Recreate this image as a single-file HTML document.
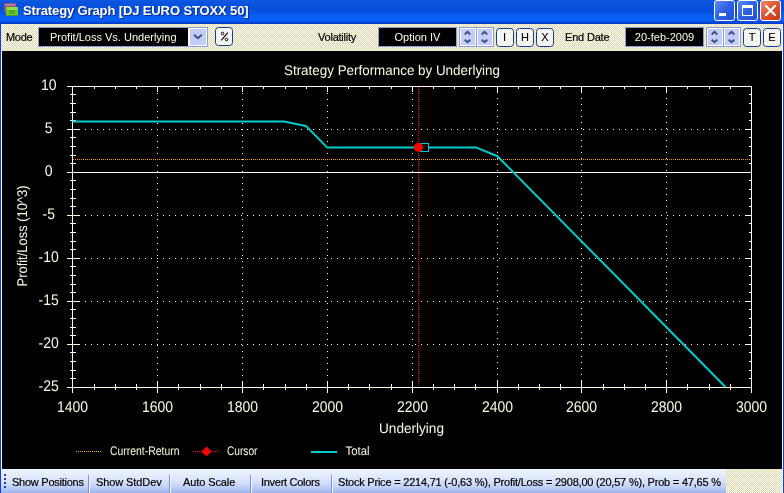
<!DOCTYPE html>
<html>
<head>
<meta charset="utf-8">
<title>Strategy Graph</title>
<style>
html,body{margin:0;padding:0;}
body{width:784px;height:493px;overflow:hidden;background:#fff;font-family:"Liberation Sans",sans-serif;position:relative;}
.abs{position:absolute;}
#csvg,.blk,#ttext,.lbl,.sb,.btn{will-change:transform;}
.lbl,.sb{-webkit-text-stroke:0.2px #000;}
.btn{-webkit-text-stroke:0.1px #000;}
#win{position:absolute;left:0;top:0;width:784px;height:493px;background:#0a3ee6;overflow:hidden;}
#title{position:absolute;left:0;top:0;width:784px;height:24px;
 background:linear-gradient(#1460ec 0px,#0a58e6 2px,#0852e0 8px,#0858ea 13px,#0a60f6 17px,#0a60f6 20px,#0650e4 22px,#0340cc 23px,#0038c0 24px);}
#title .dither{position:absolute;left:0;top:0;width:784px;height:14px;opacity:.22;
 background:repeating-conic-gradient(#0030a0 0% 25%,transparent 0% 50%) 0 0/2px 2px;}
#ttext{position:absolute;left:22.5px;top:3px;font-size:13px;line-height:15px;font-weight:bold;color:#fff;white-space:nowrap;letter-spacing:-0.12px;text-shadow:1px 1px 0 #0a2a90;}
.tb{position:absolute;top:0px;width:21px;height:21px;border-radius:3px;box-sizing:border-box;border:1px solid #fff;}
#toolbar{position:absolute;left:1px;top:24px;width:781px;height:27px;
 background:conic-gradient(#ffffb8 0 25%,#d8d4cc 0 50%,#fffff8 0 75%,#d8d4cc 0 100%) 0 0/2px 2px;}
#lwhite{position:absolute;left:1px;top:24px;width:1px;height:469px;background:#fff;}
#rwhite{position:absolute;left:782px;top:24px;width:1px;height:469px;background:#fff;}
.lbl{position:absolute;font-size:11px;color:#000;white-space:nowrap;line-height:13px;}
.blk{position:absolute;background:#000;box-sizing:border-box;border:1px solid #8a9fd0;color:#ffffe0;font-size:11px;line-height:18px;text-align:center;white-space:nowrap;}
.spinbox{position:absolute;top:3px;width:35px;height:20px;box-sizing:border-box;background:#8a9fd0;}
.spin{position:absolute;top:1px;width:16px;height:18px;margin-left:1px;box-sizing:border-box;border:1px solid #fff;background:#c4cdf9;overflow:hidden;}
.spin svg{left:-1px !important;top:-1px !important;}
.btn{position:absolute;top:4px;width:18px;height:19px;box-sizing:border-box;border:1.5px solid #143f8c;border-radius:3.5px;
 background:repeating-conic-gradient(#efeee8 0% 25%,#ffffff 0% 50%) 0 0/2px 2px;font-size:11px;line-height:16px;text-align:center;color:#000;}
#chart{position:absolute;left:2px;top:51px;width:780px;height:418px;background:#000;}
#status{position:absolute;left:2px;top:469px;width:780px;height:24px;
 background:conic-gradient(#ffffb8 0 25%,#d8d4cc 0 50%,#fffff8 0 75%,#d8d4cc 0 100%) 0 0/2px 2px;}
#strip{position:absolute;left:-1px;top:0;width:725px;height:24px;background:linear-gradient(#eef4ff 0px,#e4ecfd 6px,#d6e0fa 13px,#bccdf4 19px,#a2b9ee 23px,#98b0ea 24px);}
.sb{position:absolute;top:7px;transform-origin:0 0;font-size:11px;line-height:13px;color:#000;white-space:nowrap;}
.sep{position:absolute;top:6px;width:1px;height:18px;background:#7a90d0;box-shadow:1px 0 0 #f4f7ff;}
</style>
</head>
<body>
<div id="win">
 <div id="title">
  <div class="dither"></div>
  <svg class="abs" style="left:4px;top:3px" width="15" height="14" viewBox="4 3 15 14">
   <rect x="4" y="3" width="12" height="9" fill="#8c5a80"/>
   <rect x="5" y="4" width="10" height="2" fill="#b080a0"/>
   <rect x="6" y="7" width="12" height="9" fill="#6cc828"/>
   <rect x="7" y="7" width="10" height="3" fill="#90e048"/>
   <rect x="9" y="10" width="6" height="4" fill="#58a830"/>
   <rect x="6" y="15" width="12" height="1" fill="#4a9820"/>
  </svg>
  <div id="ttext">Strategy Graph [DJ EURO STOXX 50]</div>
  <div class="tb" style="left:714px;background:linear-gradient(135deg,#5a8af4,#2e62e4 50%,#2250d0);">
    <div class="abs" style="left:4px;top:12px;width:7px;height:3px;background:#fff"></div></div>
  <div class="tb" style="left:737px;background:linear-gradient(135deg,#5a8af4,#2e62e4 50%,#2250d0);">
    <div class="abs" style="left:4px;top:4px;width:9px;height:7px;border:1px solid #fff;border-top:3px solid #fff;box-sizing:content-box;"></div></div>
  <div class="tb" style="left:760px;background:linear-gradient(135deg,#ee8c68,#dc5430 50%,#c43812);">
    <svg class="abs" style="left:0;top:0" width="19" height="19"><path d="M5 5 L14 14 M14 5 L5 14" stroke="#fff" stroke-width="2.2" stroke-linecap="round"/></svg></div>
 </div>
 <div id="lwhite"></div><div id="rwhite"></div>
 <div id="toolbar">
  <div class="lbl" style="left:5px;top:7px;letter-spacing:-0.3px">Mode</div>
  <div class="blk" style="left:37px;top:3px;width:170px;height:20px;text-align:left;"><span style="position:absolute;left:11px;top:0;">Profit/Loss Vs. Underlying</span>
    <div class="abs" style="left:149px;top:0px;width:19px;height:18px;box-sizing:border-box;border:1px solid #fff;border-left:2px solid #fff;background:#c4cdf9;">
    <svg class="abs" style="left:0;top:0" width="16" height="16"><path d="M4 5.8 L7.9 9.2 L11.8 5.8" stroke="#3f4f7c" stroke-width="2" fill="none"/></svg></div>
  </div>
  <div class="btn" style="left:214px;top:3px;"><svg class="abs" style="left:0;top:0" width="16" height="17"><circle cx="6.5" cy="5.5" r="1.3" fill="none" stroke="#000" stroke-width="1"/><circle cx="10.5" cy="11.5" r="1.3" fill="none" stroke="#000" stroke-width="1"/><path d="M11.7 4.7 L5.3 12.3" stroke="#000" stroke-width="1.1"/></svg></div>
  <div class="lbl" style="left:317px;top:7px;letter-spacing:-0.22px">Volatility</div>
  <div class="blk" style="left:377px;top:3px;width:79px;height:20px;">Option IV</div>
  <div class="spinbox" style="left:458px;"><div class="spin" style="left:0px;"><svg class="abs" style="left:0;top:0" width="17" height="20"><path d="M4.7 6.5 L7.5 3.9 L10.3 6.5 M4.7 11.7 L7.5 14.3 L10.3 11.7" stroke="#3f4f7c" stroke-width="1.9" fill="none"/></svg></div><div class="spin" style="left:17px;"><svg class="abs" style="left:0;top:0" width="17" height="20"><path d="M4.7 6.5 L7.5 3.9 L10.3 6.5 M4.7 11.7 L7.5 14.3 L10.3 11.7" stroke="#3f4f7c" stroke-width="1.9" fill="none"/></svg></div></div>
  <div class="btn" style="left:495px;text-indent:-1px;">I</div>
  <div class="btn" style="left:515px;">H</div>
  <div class="btn" style="left:535px;">X</div>
  <div class="lbl" style="left:564.3px;top:7px;letter-spacing:-0.18px">End Date</div>
  <div class="blk" style="left:624px;top:3px;width:79px;height:20px;">20-feb-2009</div>
  <div class="spinbox" style="left:705px;"><div class="spin" style="left:0px;"><svg class="abs" style="left:0;top:0" width="17" height="20"><path d="M4.7 6.5 L7.5 3.9 L10.3 6.5 M4.7 11.7 L7.5 14.3 L10.3 11.7" stroke="#3f4f7c" stroke-width="1.9" fill="none"/></svg></div><div class="spin" style="left:17px;"><svg class="abs" style="left:0;top:0" width="17" height="20"><path d="M4.7 6.5 L7.5 3.9 L10.3 6.5 M4.7 11.7 L7.5 14.3 L10.3 11.7" stroke="#3f4f7c" stroke-width="1.9" fill="none"/></svg></div></div>
  <div class="btn" style="left:742px;">T</div>
  <div class="btn" style="left:762px;">E</div>
 </div>
 <div id="chart">
 <svg id="csvg" width="780" height="418" viewBox="2 51 780 418" style="position:absolute;left:0;top:0;font-family:'Liberation Sans',sans-serif;">
<g stroke="#ffffd8" stroke-width="1" stroke-dasharray="1 5" shape-rendering="crispEdges" fill="none"><line x1="157.5" y1="87" x2="157.5" y2="387"/><line x1="242.5" y1="87" x2="242.5" y2="387"/><line x1="327.5" y1="87" x2="327.5" y2="387"/><line x1="412.5" y1="87" x2="412.5" y2="387"/><line x1="497.5" y1="86" x2="497.5" y2="387"/><line x1="581.5" y1="86" x2="581.5" y2="387"/><line x1="666.5" y1="86" x2="666.5" y2="387"/><line x1="73" y1="129.5" x2="751" y2="129.5"/><line x1="73" y1="215.5" x2="751" y2="215.5"/><line x1="73" y1="258.5" x2="751" y2="258.5"/><line x1="73" y1="301.5" x2="751" y2="301.5"/><line x1="73" y1="344.5" x2="751" y2="344.5"/></g>
<line x1="73" y1="159.5" x2="751" y2="159.5" stroke="#ffa000" stroke-width="1" stroke-dasharray="1 1" shape-rendering="crispEdges"/>
<line x1="72" y1="172.5" x2="751" y2="172.5" stroke="#ffffff" stroke-width="1" shape-rendering="crispEdges"/>
<g stroke="#ffffe4" stroke-width="1" shape-rendering="crispEdges" fill="none"><rect x="72.5" y="86.5" width="679" height="301"/><line x1="72.5" y1="381" x2="72.5" y2="393"/><line x1="72.5" y1="86" x2="72.5" y2="92"/><line x1="94.5" y1="384" x2="94.5" y2="390"/><line x1="94.5" y1="86" x2="94.5" y2="89"/><line x1="115.5" y1="384" x2="115.5" y2="390"/><line x1="115.5" y1="86" x2="115.5" y2="89"/><line x1="136.5" y1="384" x2="136.5" y2="390"/><line x1="136.5" y1="86" x2="136.5" y2="89"/><line x1="157.5" y1="381" x2="157.5" y2="393"/><line x1="157.5" y1="86" x2="157.5" y2="92"/><line x1="178.5" y1="384" x2="178.5" y2="390"/><line x1="178.5" y1="86" x2="178.5" y2="89"/><line x1="200.5" y1="384" x2="200.5" y2="390"/><line x1="200.5" y1="86" x2="200.5" y2="89"/><line x1="221.5" y1="384" x2="221.5" y2="390"/><line x1="221.5" y1="86" x2="221.5" y2="89"/><line x1="242.5" y1="381" x2="242.5" y2="393"/><line x1="242.5" y1="86" x2="242.5" y2="92"/><line x1="263.5" y1="384" x2="263.5" y2="390"/><line x1="263.5" y1="86" x2="263.5" y2="89"/><line x1="285.5" y1="384" x2="285.5" y2="390"/><line x1="285.5" y1="86" x2="285.5" y2="89"/><line x1="306.5" y1="384" x2="306.5" y2="390"/><line x1="306.5" y1="86" x2="306.5" y2="89"/><line x1="327.5" y1="381" x2="327.5" y2="393"/><line x1="327.5" y1="86" x2="327.5" y2="92"/><line x1="348.5" y1="384" x2="348.5" y2="390"/><line x1="348.5" y1="86" x2="348.5" y2="89"/><line x1="369.5" y1="384" x2="369.5" y2="390"/><line x1="369.5" y1="86" x2="369.5" y2="89"/><line x1="391.5" y1="384" x2="391.5" y2="390"/><line x1="391.5" y1="86" x2="391.5" y2="89"/><line x1="412.5" y1="381" x2="412.5" y2="393"/><line x1="412.5" y1="86" x2="412.5" y2="92"/><line x1="433.5" y1="384" x2="433.5" y2="390"/><line x1="433.5" y1="86" x2="433.5" y2="89"/><line x1="454.5" y1="384" x2="454.5" y2="390"/><line x1="454.5" y1="86" x2="454.5" y2="89"/><line x1="475.5" y1="384" x2="475.5" y2="390"/><line x1="475.5" y1="86" x2="475.5" y2="89"/><line x1="497.5" y1="381" x2="497.5" y2="393"/><line x1="497.5" y1="86" x2="497.5" y2="92"/><line x1="518.5" y1="384" x2="518.5" y2="390"/><line x1="518.5" y1="86" x2="518.5" y2="89"/><line x1="539.5" y1="384" x2="539.5" y2="390"/><line x1="539.5" y1="86" x2="539.5" y2="89"/><line x1="560.5" y1="384" x2="560.5" y2="390"/><line x1="560.5" y1="86" x2="560.5" y2="89"/><line x1="581.5" y1="381" x2="581.5" y2="393"/><line x1="581.5" y1="86" x2="581.5" y2="92"/><line x1="603.5" y1="384" x2="603.5" y2="390"/><line x1="603.5" y1="86" x2="603.5" y2="89"/><line x1="624.5" y1="384" x2="624.5" y2="390"/><line x1="624.5" y1="86" x2="624.5" y2="89"/><line x1="645.5" y1="384" x2="645.5" y2="390"/><line x1="645.5" y1="86" x2="645.5" y2="89"/><line x1="666.5" y1="381" x2="666.5" y2="393"/><line x1="666.5" y1="86" x2="666.5" y2="92"/><line x1="687.5" y1="384" x2="687.5" y2="390"/><line x1="687.5" y1="86" x2="687.5" y2="89"/><line x1="709.5" y1="384" x2="709.5" y2="390"/><line x1="709.5" y1="86" x2="709.5" y2="89"/><line x1="730.5" y1="384" x2="730.5" y2="390"/><line x1="730.5" y1="86" x2="730.5" y2="89"/><line x1="751.5" y1="381" x2="751.5" y2="393"/><line x1="751.5" y1="86" x2="751.5" y2="92"/><line x1="67" y1="387.5" x2="79" y2="387.5"/><line x1="745" y1="387.5" x2="752" y2="387.5"/><line x1="70" y1="378.5" x2="76" y2="378.5"/><line x1="749" y1="378.5" x2="752" y2="378.5"/><line x1="70" y1="370.5" x2="76" y2="370.5"/><line x1="749" y1="370.5" x2="752" y2="370.5"/><line x1="70" y1="361.5" x2="76" y2="361.5"/><line x1="749" y1="361.5" x2="752" y2="361.5"/><line x1="70" y1="352.5" x2="76" y2="352.5"/><line x1="749" y1="352.5" x2="752" y2="352.5"/><line x1="67" y1="344.5" x2="79" y2="344.5"/><line x1="745" y1="344.5" x2="752" y2="344.5"/><line x1="70" y1="335.5" x2="76" y2="335.5"/><line x1="749" y1="335.5" x2="752" y2="335.5"/><line x1="70" y1="327.5" x2="76" y2="327.5"/><line x1="749" y1="327.5" x2="752" y2="327.5"/><line x1="70" y1="318.5" x2="76" y2="318.5"/><line x1="749" y1="318.5" x2="752" y2="318.5"/><line x1="70" y1="309.5" x2="76" y2="309.5"/><line x1="749" y1="309.5" x2="752" y2="309.5"/><line x1="67" y1="301.5" x2="79" y2="301.5"/><line x1="745" y1="301.5" x2="752" y2="301.5"/><line x1="70" y1="292.5" x2="76" y2="292.5"/><line x1="749" y1="292.5" x2="752" y2="292.5"/><line x1="70" y1="284.5" x2="76" y2="284.5"/><line x1="749" y1="284.5" x2="752" y2="284.5"/><line x1="70" y1="275.5" x2="76" y2="275.5"/><line x1="749" y1="275.5" x2="752" y2="275.5"/><line x1="70" y1="266.5" x2="76" y2="266.5"/><line x1="749" y1="266.5" x2="752" y2="266.5"/><line x1="67" y1="258.5" x2="79" y2="258.5"/><line x1="745" y1="258.5" x2="752" y2="258.5"/><line x1="70" y1="249.5" x2="76" y2="249.5"/><line x1="749" y1="249.5" x2="752" y2="249.5"/><line x1="70" y1="241.5" x2="76" y2="241.5"/><line x1="749" y1="241.5" x2="752" y2="241.5"/><line x1="70" y1="232.5" x2="76" y2="232.5"/><line x1="749" y1="232.5" x2="752" y2="232.5"/><line x1="70" y1="223.5" x2="76" y2="223.5"/><line x1="749" y1="223.5" x2="752" y2="223.5"/><line x1="67" y1="215.5" x2="79" y2="215.5"/><line x1="745" y1="215.5" x2="752" y2="215.5"/><line x1="70" y1="206.5" x2="76" y2="206.5"/><line x1="749" y1="206.5" x2="752" y2="206.5"/><line x1="70" y1="198.5" x2="76" y2="198.5"/><line x1="749" y1="198.5" x2="752" y2="198.5"/><line x1="70" y1="189.5" x2="76" y2="189.5"/><line x1="749" y1="189.5" x2="752" y2="189.5"/><line x1="70" y1="180.5" x2="76" y2="180.5"/><line x1="749" y1="180.5" x2="752" y2="180.5"/><line x1="67" y1="172.5" x2="79" y2="172.5"/><line x1="745" y1="172.5" x2="752" y2="172.5"/><line x1="70" y1="163.5" x2="76" y2="163.5"/><line x1="749" y1="163.5" x2="752" y2="163.5"/><line x1="70" y1="155.5" x2="76" y2="155.5"/><line x1="749" y1="155.5" x2="752" y2="155.5"/><line x1="70" y1="146.5" x2="76" y2="146.5"/><line x1="749" y1="146.5" x2="752" y2="146.5"/><line x1="70" y1="137.5" x2="76" y2="137.5"/><line x1="749" y1="137.5" x2="752" y2="137.5"/><line x1="67" y1="129.5" x2="79" y2="129.5"/><line x1="745" y1="129.5" x2="752" y2="129.5"/><line x1="70" y1="120.5" x2="76" y2="120.5"/><line x1="749" y1="120.5" x2="752" y2="120.5"/><line x1="70" y1="112.5" x2="76" y2="112.5"/><line x1="749" y1="112.5" x2="752" y2="112.5"/><line x1="70" y1="103.5" x2="76" y2="103.5"/><line x1="749" y1="103.5" x2="752" y2="103.5"/><line x1="70" y1="94.5" x2="76" y2="94.5"/><line x1="749" y1="94.5" x2="752" y2="94.5"/><line x1="67" y1="86.5" x2="79" y2="86.5"/><line x1="745" y1="86.5" x2="752" y2="86.5"/></g>
<line x1="418.5" y1="87" x2="418.5" y2="387" stroke="#ff0000" stroke-width="1" stroke-dasharray="1 1" shape-rendering="crispEdges"/>
<polyline points="72.5,121.4 284,121.4 306,125.9 327,147.4 476,147.4 497.5,156.2 725.5,387" stroke="#00cccc" stroke-width="2.05" fill="none" stroke-linejoin="round"/>
<rect x="420.5" y="143.5" width="8" height="8" fill="#000" stroke="#00cccc" stroke-width="1" shape-rendering="crispEdges"/>
<circle cx="418.5" cy="147.3" r="4.6" fill="#ff0000"/>
<g fill="#fafae2" font-size="14px" text-rendering="geometricPrecision"><text x="72.5" y="412" text-anchor="middle" textLength="31.1" lengthAdjust="spacingAndGlyphs" font-size="15.4px">1400</text><text x="157.5" y="412" text-anchor="middle" textLength="31.1" lengthAdjust="spacingAndGlyphs" font-size="15.4px">1600</text><text x="242.5" y="412" text-anchor="middle" textLength="31.1" lengthAdjust="spacingAndGlyphs" font-size="15.4px">1800</text><text x="327.5" y="412" text-anchor="middle" textLength="31.1" lengthAdjust="spacingAndGlyphs" font-size="15.4px">2000</text><text x="412.5" y="412" text-anchor="middle" textLength="31.1" lengthAdjust="spacingAndGlyphs" font-size="15.4px">2200</text><text x="497.5" y="412" text-anchor="middle" textLength="31.1" lengthAdjust="spacingAndGlyphs" font-size="15.4px">2400</text><text x="581.5" y="412" text-anchor="middle" textLength="31.1" lengthAdjust="spacingAndGlyphs" font-size="15.4px">2600</text><text x="666.5" y="412" text-anchor="middle" textLength="31.1" lengthAdjust="spacingAndGlyphs" font-size="15.4px">2800</text><text x="751.5" y="412" text-anchor="middle" textLength="31.1" lengthAdjust="spacingAndGlyphs" font-size="15.4px">3000</text><text x="48.7" y="391.0" text-anchor="middle" textLength="20.2" lengthAdjust="spacingAndGlyphs" font-size="15.4px">-25</text><text x="48.7" y="348.0" text-anchor="middle" textLength="20.2" lengthAdjust="spacingAndGlyphs" font-size="15.4px">-20</text><text x="48.7" y="305.0" text-anchor="middle" textLength="20.2" lengthAdjust="spacingAndGlyphs" font-size="15.4px">-15</text><text x="48.7" y="262.0" text-anchor="middle" textLength="20.2" lengthAdjust="spacingAndGlyphs" font-size="15.4px">-10</text><text x="48.7" y="219.0" text-anchor="middle" textLength="12.4" lengthAdjust="spacingAndGlyphs" font-size="15.4px">-5</text><text x="48.7" y="176.0" text-anchor="middle" textLength="7.8" lengthAdjust="spacingAndGlyphs" font-size="15.4px">0</text><text x="48.7" y="133.0" text-anchor="middle" textLength="7.8" lengthAdjust="spacingAndGlyphs" font-size="15.4px">5</text><text x="48.7" y="90.0" text-anchor="middle" textLength="15.6" lengthAdjust="spacingAndGlyphs" font-size="15.4px">10</text><text x="392" y="75" text-anchor="middle" textLength="216.0" lengthAdjust="spacingAndGlyphs">Strategy Performance by Underlying</text><text x="411.5" y="433" text-anchor="middle" textLength="65.0" lengthAdjust="spacingAndGlyphs">Underlying</text><text transform="translate(26.5,236) rotate(-90)" text-anchor="middle" textLength="101" lengthAdjust="spacingAndGlyphs">Profit/Loss (10^3)</text><text x="110" y="455" text-anchor="start" textLength="69.5" lengthAdjust="spacingAndGlyphs" font-size="12.4px">Current-Return</text><text x="227" y="455" text-anchor="start" textLength="30.5" lengthAdjust="spacingAndGlyphs" font-size="12.4px">Cursor</text><text x="345.5" y="455" text-anchor="start" textLength="24.0" lengthAdjust="spacingAndGlyphs" font-size="12.4px">Total</text></g>
<line x1="76" y1="451.5" x2="102" y2="451.5" stroke="#ffa000" stroke-width="1" stroke-dasharray="1 1" shape-rendering="crispEdges"/>
<line x1="193" y1="451.5" x2="219" y2="451.5" stroke="#ff0000" stroke-width="1" stroke-dasharray="1 1" shape-rendering="crispEdges"/>
<path d="M201.5 451.5 L206.5 446.5 L211.5 451.5 L206.5 456.5 Z" fill="#ff0000"/>
<line x1="311" y1="452" x2="337" y2="452" stroke="#00cccc" stroke-width="2.05"/>
</svg>
 </div>
 <div id="status">
  <div id="strip">
   <svg class="abs" style="left:2.0px;top:4px" width="5" height="16"><g fill="#27408b"><rect x="1" y="1" width="2" height="2"/><rect x="1" y="5" width="2" height="2"/><rect x="1" y="9" width="2" height="2"/><rect x="1" y="13" width="2" height="2"/></g></svg>
   <div class="sb" style="left:10.5px;letter-spacing:-0.25px">Show Positions</div>
   <div class="sep" style="left:87.0px;"></div>
   <div class="sb" style="left:94.5px;letter-spacing:-0.1px">Show StdDev</div>
   <div class="sep" style="left:168.0px;"></div>
   <div class="sb" style="left:182.0px;letter-spacing:-0.1px">Auto Scale</div>
   <div class="sep" style="left:249.0px;"></div>
   <div class="sb" style="left:259.5px;letter-spacing:-0.28px">Invert Colors</div>
   <div class="sep" style="left:330.0px;"></div>
   <div class="sb" style="left:336.5px;letter-spacing:-0.21px">Stock Price = 2214,71 (-0,63 %), Profit/Loss = 2908,00 (20,57 %), Prob = 47,65 %</div>
  </div>
 </div>
</div>
</body>
</html>
